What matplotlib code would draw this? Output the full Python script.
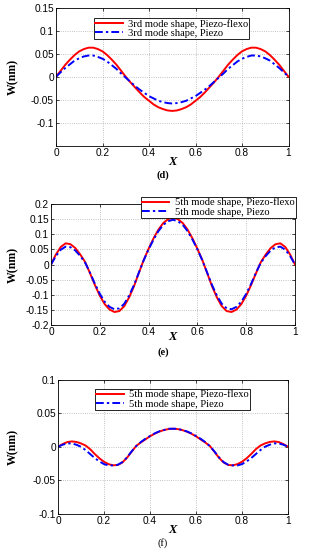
import matplotlib as mpl
import matplotlib.pyplot as plt
import numpy as np

plt.close('all')

# x positions (0 to 1, step 0.02)
x = np.round(np.arange(0, 1.0001, 0.02), 2)

# (d) 3rd mode shape
d_flexo = [0, 0.013, 0.026, 0.037, 0.047, 0.055, 0.060, 0.063, 0.063, 0.060,
           0.055, 0.047, 0.037, 0.026, 0.013, 0.0, -0.012, -0.023, -0.034, -0.044,
           -0.052, -0.060, -0.066, -0.070, -0.073, -0.074,
           -0.073, -0.070, -0.066, -0.060, -0.052, -0.044, -0.034, -0.023, -0.012,
           0.0, 0.013, 0.026, 0.037, 0.047, 0.055, 0.060, 0.063, 0.063, 0.060,
           0.055, 0.047, 0.037, 0.026, 0.013, 0]
d_piezo = [0, 0.0097, 0.019, 0.027, 0.035, 0.040, 0.044, 0.046, 0.046, 0.043,
           0.039, 0.033, 0.025, 0.017, 0.007, -0.002, -0.011, -0.020, -0.028, -0.035,
           -0.042, -0.047, -0.052, -0.055, -0.057, -0.058,
           -0.057, -0.055, -0.052, -0.047, -0.042, -0.035, -0.028, -0.020, -0.011,
           -0.002, 0.007, 0.017, 0.025, 0.033, 0.039, 0.043, 0.046, 0.046, 0.044,
           0.040, 0.035, 0.027, 0.019, 0.0097, 0]

# (e) 5th mode shape
e_flexo = [0, 0.033, 0.058, 0.070, 0.067, 0.054, 0.033, 0.008, -0.029, -0.068,
           -0.103, -0.131, -0.149, -0.157, -0.154, -0.138, -0.109, -0.072, -0.028, 0.015,
           0.052, 0.086, 0.115, 0.137, 0.150, 0.155,
           0.150, 0.137, 0.115, 0.086, 0.052, 0.015, -0.028, -0.072, -0.109,
           -0.138, -0.154, -0.157, -0.149, -0.131, -0.103, -0.068, -0.029, 0.008, 0.033,
           0.054, 0.067, 0.070, 0.058, 0.033, 0]
e_piezo = [0, 0.028, 0.049, 0.059, 0.057, 0.046, 0.028, 0.006, -0.027, -0.064,
           -0.097, -0.123, -0.140, -0.148, -0.145, -0.130, -0.103, -0.068, -0.027, 0.014,
           0.050, 0.082, 0.110, 0.131, 0.143, 0.148,
           0.143, 0.131, 0.110, 0.082, 0.050, 0.014, -0.027, -0.068, -0.103,
           -0.130, -0.145, -0.148, -0.140, -0.123, -0.097, -0.064, -0.027, 0.006, 0.028,
           0.046, 0.057, 0.059, 0.049, 0.028, 0]

# (f) 5th mode shape
f_flexo = [0, 0.004, 0.007, 0.008, 0.0072, 0.005, 0.0018, -0.0037, -0.0109, -0.0173,
           -0.0225, -0.0261, -0.0278, -0.0273, -0.0235, -0.0165, -0.0075, 0.0013, 0.0064, 0.011,
           0.0157, 0.0195, 0.0227, 0.025, 0.0265, 0.027,
           0.0265, 0.025, 0.0227, 0.0195, 0.0157, 0.011, 0.0064, 0.0013, -0.0075,
           -0.0165, -0.0235, -0.0273, -0.0278, -0.0261, -0.0225, -0.0173, -0.0109, -0.0037, 0.0018,
           0.005, 0.0072, 0.008, 0.007, 0.004, 0]
f_piezo = [0, 0.003, 0.005, 0.005, 0.003, 0.0, -0.005, -0.011, -0.017, -0.022,
           -0.026, -0.028, -0.028, -0.027, -0.023, -0.016, -0.007, 0.001, 0.007, 0.012,
           0.016, 0.020, 0.023, 0.025, 0.027, 0.027,
           0.027, 0.025, 0.023, 0.020, 0.016, 0.012, 0.007, 0.001, -0.007,
           -0.016, -0.023, -0.027, -0.028, -0.028, -0.026, -0.022, -0.017, -0.011, -0.005,
           0.0, 0.003, 0.005, 0.005, 0.003, 0]

xticks = [0, 0.2, 0.4, 0.6, 0.8, 1]
xticklabels = ['0', '0.2', '0.4', '0.6', '0.8', '1']

params = {'font.family': 'Liberation Sans', 'xtick.labelsize': 7.3, 'ytick.labelsize': 7.3,
          'axes.linewidth': 0.6}
mpl.rcParams.update(params)

W, H = 309, 550
fig = plt.figure(figsize=(W/100, H/100), dpi=100)

def px(l, t, r, b):
    return (l/W, 1-b/H, (r-l)/W, (b-t)/H)

serif = 'Liberation Serif'
dashdot = (0, (4, 1.6, 1.2, 1.6))

panels = [
    # rect, data, ylim, yticks, ylabels, legend text, legend anchor, xlabel y, tag y, tag, tag weight
    ((56, 7.5, 288.5, 146), d_flexo, d_piezo, (-0.15, 0.15),
     [-0.1, -0.05, 0, 0.05, 0.1, 0.15], ['-0.1', '-0.05', '0', '0.05', '0.1', '0.15'],
     '3rd mode shape', (94, 18), 162, 175, '(d)', 'bold'),
    ((51, 204, 295, 325), e_flexo, e_piezo, (-0.2, 0.2),
     [-0.2, -0.15, -0.1, -0.05, 0, 0.05, 0.1, 0.15, 0.2],
     ['-0.2', '-0.15', '-0.1', '-0.05', '0', '0.05', '0.1', '0.15', '0.2'],
     '5th mode shape', (141, 196.5), 337, 352, '(e)', 'bold'),
    ((58, 380, 288, 513.5), f_flexo, f_piezo, (-0.1, 0.1),
     [-0.1, -0.05, 0, 0.05, 0.1], ['-0.1', '-0.05', '0', '0.05', '0.1'],
     '5th mode shape', (95, 388.5), 530, 543, '(f)', 'normal'),
]

for rect, yf, yp, ylim, yt, ytl, mode, lg, xly, tagy, tag, tagw in panels:
    ax = fig.add_axes(px(*rect))
    ax.plot(x, yf, '-', color='red', linewidth=1.4, label=mode + ', Piezo-flexo')
    ax.plot(x, yp, linestyle=dashdot, color='blue', linewidth=1.4, label=mode + ', Piezo')
    ax.set_xlim(0, 1)
    ax.set_ylim(*ylim)
    ax.set_xticks(xticks)
    ax.set_xticklabels(xticklabels)
    ax.set_yticks(yt)
    ax.set_yticklabels(ytl)
    ax.grid(True, linestyle=':', color='#b0b0b0', linewidth=0.6)
    ax.tick_params(direction='in', length=2, width=0.5, top=True, right=True, pad=1.5)
    leg = ax.legend(loc='upper left', bbox_to_anchor=(lg[0]/W, 1-lg[1]/H),
                    bbox_transform=fig.transFigure, prop={'family': serif, 'size': 7.6},
                    fancybox=False, edgecolor='black', framealpha=1, borderpad=0.1,
                    labelspacing=0.0, handlelength=2.6, handletextpad=0.5, borderaxespad=0)
    leg.get_frame().set_linewidth(0.6)
    cy = (rect[1] + rect[3]) / 2
    fig.text(13/W, 1-cy/H, 'W(nm)', rotation=90, ha='center', va='center',
             family=serif, fontweight='bold', fontsize=8.5)
    fig.text((rect[0]+rect[2])/2/W, 1-xly/H, 'X', ha='center', va='center',
             family=serif, fontweight='bold', style='italic', fontsize=9)
    fig.text(163/W, 1-tagy/H, tag, ha='center', va='center',
             family=serif, fontweight=tagw, fontsize=7.5)

fig.savefig('out.png', dpi=100)
